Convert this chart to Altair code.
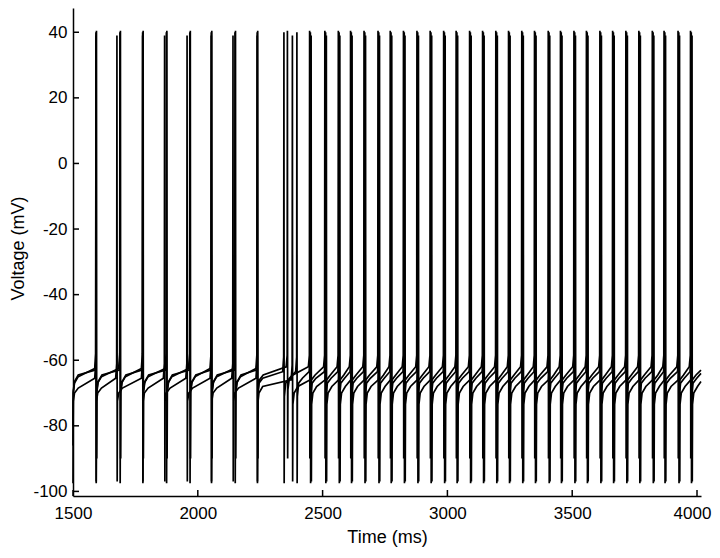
import altair as alt
import pandas as pd

# ---------------- data ----------------
X_TICKS = [1500, 2000, 2500, 3000, 3500, 4000]
Y_TICKS = [40, 20, 0, -20, -40, -60, -80, -100]
T_START = 1500
T_END = 4016
PHASE2_START = 2300

TRACES = ["A", "B", "C"]

SPIKES_A = [1592, 1688, 1779, 1874, 1968, 2054, 2149, 2238,
            2345, 2397, 2451, 2512, 2566, 2615, 2669, 2725, 2774, 2827,
            2881, 2934, 2988, 3038, 3092, 3144, 3197, 3248, 3301, 3352,
            3407, 3456, 3510, 3560, 3614, 3665, 3718, 3770, 3824, 3871,
            3927, 3977]
SPIKES_B = [1592, 1676, 1779, 1867, 1957, 2054, 2141, 2238,
            2379, 2454, 2515, 2569, 2618, 2672, 2728, 2777, 2830,
            2884, 2937, 2991, 3041, 3095, 3147, 3200, 3251, 3304, 3355,
            3410, 3459, 3513, 3563, 3617, 3668, 3721, 3773, 3827, 3874,
            3930, 3980]
SPIKES_C = [1594, 1690, 1781, 1876, 1970, 2056, 2151, 2240,
            2359, 2448, 2509, 2563, 2612, 2666, 2722, 2771, 2824,
            2878, 2931, 2985, 3035, 3089, 3141, 3194, 3245, 3298, 3349,
            3404, 3453, 3507, 3557, 3611, 3662, 3715, 3767, 3821, 3868,
            3924, 3974]
SPIKES = [SPIKES_A, SPIKES_B, SPIKES_C]

START_V = [-97.5, -86.0, -80.0]     # voltage at t = 1500
END_V = [-64.0, -66.5, -63.0]       # voltage at the end of the record
PEAK_V = [40.0, 39.0, 40.5]         # spike peaks
TROUGH_V = [-97.5, -97.0, -90.0]    # after-spike troughs

# inter-spike levels: reset, early, mid, late, threshold (mV)
LEVELS_P1 = [[-70.0, -67.0, -65.0, -62.5, -58.0],
             [-72.5, -70.0, -68.5, -65.5, -61.0],
             [-69.5, -66.5, -64.5, -63.0, -59.0]]
LEVELS_P2 = [[-71.0, -67.0, -65.5, -63.5, -59.0],
             [-73.5, -70.0, -68.0, -66.0, -61.5],
             [-69.0, -66.0, -64.5, -62.0, -58.5]]
# template times (ms) after the previous spike / before the next one
AFTER = [1, 2, 7, 22]
BEFORE = [5, 1]

rows = []
for k, name in enumerate(TRACES):
    pts = [(T_START, START_V[k])]
    prev = T_START - 1
    first = True
    for ts in SPIKES[k]:
        lv = LEVELS_P1[k] if ts < PHASE2_START else LEVELS_P2[k]
        if not first:
            pts.append((prev + AFTER[0], TROUGH_V[k]))
        pts += [(prev + AFTER[1], lv[0]), (prev + AFTER[2], lv[1]),
                (prev + AFTER[3], lv[2]), (ts - BEFORE[0], lv[3]),
                (ts - BEFORE[1], lv[4]), (ts, PEAK_V[k])]
        prev = ts
        first = False
    lv = LEVELS_P2[k]
    pts += [(prev + AFTER[0], TROUGH_V[k]), (prev + AFTER[1], lv[0]),
            (prev + AFTER[2], lv[1]), (prev + AFTER[3], lv[2]),
            (T_END, END_V[k])]
    for i, (t, v) in enumerate(pts):
        rows.append({"trace": name, "i": i, "t": t, "v": v})

df = pd.DataFrame(rows)
xt = pd.DataFrame({"t": X_TICKS})
yt = pd.DataFrame({"v": Y_TICKS})

FONT = "Liberation Sans"
xs = alt.Scale(domain=[T_START, T_END], nice=False, zero=False)
ys = alt.Scale(domain=[-101.4, 47.4], nice=False, zero=False)

x_axis = alt.Axis(
    values=X_TICKS, ticks=False, tickSize=0, grid=False,
    domainColor="black", domainWidth=1.5,
    labelFont=FONT, labelFontSize=17, labelColor="black",
    labelPadding=9, labelFlush=False, labelExpr="'' + datum.value",
    labelOffset={"condition": {"test": "datum.value == 4000", "value": -5}, "value": 0},
    title="Time (ms)", titleFont=FONT, titleFontSize=18,
    titleFontWeight="normal", titleColor="black", titleY=32)
y_axis = alt.Axis(
    values=Y_TICKS, ticks=False, tickSize=0, grid=False,
    domainColor="black", domainWidth=1.5,
    labelFont=FONT, labelFontSize=17, labelColor="black",
    labelPadding=6, labelExpr="'' + datum.value",
    title="Voltage (mV)", titleFont=FONT, titleFontSize=18,
    titleFontWeight="normal", titleColor="black",
    titleAngle=270, titleBaseline="top", titleAlign="center",
    titleX=-64, titleY=240)

lines = alt.Chart(df).mark_line(color="black", strokeWidth=1.7).encode(
    x=alt.X("t:Q", scale=xs, axis=x_axis),
    y=alt.Y("v:Q", scale=ys, axis=y_axis),
    detail="trace:N",
    order="i:Q",
)

xticks = alt.Chart(xt).mark_rule(color="black", strokeWidth=1.5).encode(
    x=alt.X("t:Q", scale=xs, axis=x_axis),
    y=alt.value(488), y2=alt.value(482),
)
yticks = alt.Chart(yt).mark_rule(color="black", strokeWidth=1.5).encode(
    y=alt.Y("v:Q", scale=ys, axis=y_axis),
    x=alt.value(0), x2=alt.value(6),
)

chart = alt.layer(lines, xticks, yticks).properties(
    width=628, height=488,
    autosize=alt.AutoSizeParams(type="none"),
    padding={"left": 65, "top": 0, "right": 11, "bottom": 54},
    background="white",
).configure_view(stroke=None)

chart.save("out.html", embed_options={"renderer": "svg", "actions": False})
